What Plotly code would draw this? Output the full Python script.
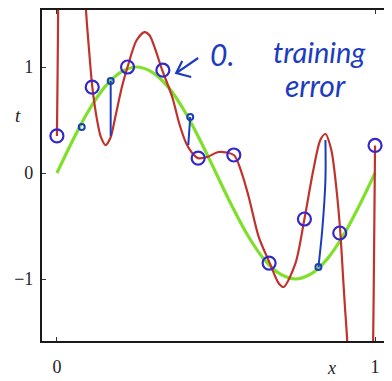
import plotly.graph_objects as go

# training data (blue circles)
data_x = [0.0, 0.111, 0.222, 0.333, 0.444, 0.556, 0.667, 0.778, 0.889, 1.0]
data_t = [0.35, 0.81, 1.0, 0.97, 0.14, 0.17, -0.85, -0.434, -0.566, 0.26]

# green true curve
green_x = [0.0, 0.05, 0.1, 0.15, 0.2, 0.25, 0.3, 0.35, 0.4, 0.45, 0.5,
           0.55, 0.6, 0.65, 0.7, 0.75, 0.8, 0.85, 0.9, 0.95, 1.0]
green_t = [0.0, 0.31, 0.59, 0.81, 0.95, 1.0, 0.95, 0.81, 0.59, 0.31, 0.0,
           -0.31, -0.59, -0.81, -0.95, -1.0, -0.95, -0.81, -0.59, -0.31, 0.0]

# red M=9 fitted curve (values beyond the frame are clipped)
red_x = [0.0, 0.002, 0.004, 0.006, 0.085, 0.0906, 0.1, 0.111, 0.125, 0.138,
         0.153, 0.168, 0.185, 0.205, 0.222, 0.25, 0.275, 0.291, 0.331, 0.3625,
         0.384, 0.406, 0.425, 0.444, 0.472, 0.509, 0.556, 0.581, 0.603, 0.634,
         0.669, 0.697, 0.7125, 0.75, 0.778, 0.806, 0.828, 0.844, 0.8625, 0.878,
         0.891, 0.9, 0.906, 0.9125, 0.918, 0.988, 0.994, 0.997, 1.0]
red_t = [0.35, 0.9, 1.6, 2.6, 2.6, 1.585, 1.2, 0.82, 0.52, 0.34,
         0.264, 0.33, 0.55, 0.82, 1.0, 1.25, 1.33, 1.30, 0.97, 0.717,
         0.472, 0.283, 0.189, 0.14, 0.151, 0.198, 0.17, 0.0, -0.226, -0.60,
         -0.85, -1.04, -1.075, -0.85, -0.434, 0.028, 0.311, 0.368, 0.217, -0.132,
         -0.566, -1.01, -1.29, -1.594, -2.6, -2.6, -1.59, -0.73, 0.26]

# handwritten annotations: error lines (x, t)
err1_x = [0.169, 0.169]
err1_t = [0.868, 0.349]
err2_x = [0.419, 0.413]
err2_t = [0.528, 0.264]
err3_x = [0.844, 0.844, 0.834, 0.822]
err3_t = [0.311, -0.066, -0.538, -0.887]
mark_x = [0.078, 0.169, 0.419, 0.822]
mark_t = [0.434, 0.868, 0.528, -0.887]

RED = "#c0322b"
GREEN = "#7fe02c"
BLUE = "#3528c8"
INK = "#1c3cc0"

fig = go.Figure()
fig.add_trace(go.Scatter(x=green_x, y=green_t, mode="lines",
                         line=dict(color=GREEN, width=3.2, shape="spline"),
                         hoverinfo="skip"))
fig.add_trace(go.Scatter(x=red_x, y=red_t, mode="lines",
                         line=dict(color=RED, width=2.2, shape="spline", smoothing=0.8),
                         hoverinfo="skip"))
for ex, et in [(err1_x, err1_t), (err2_x, err2_t), (err3_x, err3_t)]:
    fig.add_trace(go.Scatter(x=ex, y=et, mode="lines",
                             line=dict(color=INK, width=2, shape="spline"),
                             hoverinfo="skip"))
fig.add_trace(go.Scatter(x=mark_x, y=mark_t, mode="markers",
                         marker=dict(symbol="circle-open", size=6, color=INK,
                                     line=dict(width=2, color=INK)),
                         hoverinfo="skip"))
fig.add_trace(go.Scatter(x=data_x, y=data_t, mode="markers",
                         marker=dict(symbol="circle-open", size=13, color=BLUE,
                                     line=dict(width=2.2, color=BLUE)),
                         hoverinfo="skip"))

# hand-drawn arrow pointing at a data point (shaft + open V head)
arrow = dict(type="path", xref="x", yref="y",
             line=dict(color=INK, width=2.2),
             path="M 0.444 1.085 L 0.375 0.943 M 0.394 1.057 L 0.375 0.943 L 0.422 0.906")
fig.add_shape(**arrow)

fig.add_annotation(x=0.52, y=1.12, xref="x", yref="y", text="0.",
                   showarrow=False,
                   font=dict(family="Lato", size=30, color=INK, style="italic"))
fig.add_annotation(x=0.825, y=1.15, xref="x", yref="y", text="training",
                   showarrow=False,
                   font=dict(family="Lato", size=29, color=INK, style="italic"))
fig.add_annotation(x=0.8125, y=0.83, xref="x", yref="y", text="error",
                   showarrow=False,
                   font=dict(family="Lato", size=30, color=INK, style="italic"))

# axis labels (paper coordinates, outside the frame)
fig.add_annotation(x=-0.0686, y=0.681, xref="paper", yref="paper", text="t",
                   showarrow=False, xanchor="center", yanchor="middle",
                   font=dict(family="Liberation Serif", size=19, color="#222", style="italic"))
fig.add_annotation(x=0.831, y=-0.083, xref="paper", yref="paper", text="x",
                   showarrow=False, xanchor="center", yanchor="middle",
                   font=dict(family="Liberation Serif", size=18, color="#222", style="italic"))

axis_common = dict(showline=True, linecolor="#1a1a1a", linewidth=2.2, mirror="ticks",
                   ticks="inside", ticklen=4, tickwidth=1, tickcolor="#333",
                   showgrid=False, zeroline=False,
                   tickfont=dict(family="Liberation Serif", size=18, color="#222"))

fig.update_xaxes(range=[-0.0469, 1.047], tickvals=[0, 1], ticktext=["0", "1"],
                 ticklabelstandoff=8, **axis_common)
fig.update_yaxes(range=[-1.585, 1.538], tickvals=[-1, 0, 1], ticktext=["\u22121", "0", "1"],
                 ticklabelstandoff=3, **axis_common)

fig.update_layout(width=384, height=373, margin=dict(l=34, r=0, t=2, b=40),
                  plot_bgcolor="white", paper_bgcolor="white", showlegend=False)

fig.write_html("out.html")
